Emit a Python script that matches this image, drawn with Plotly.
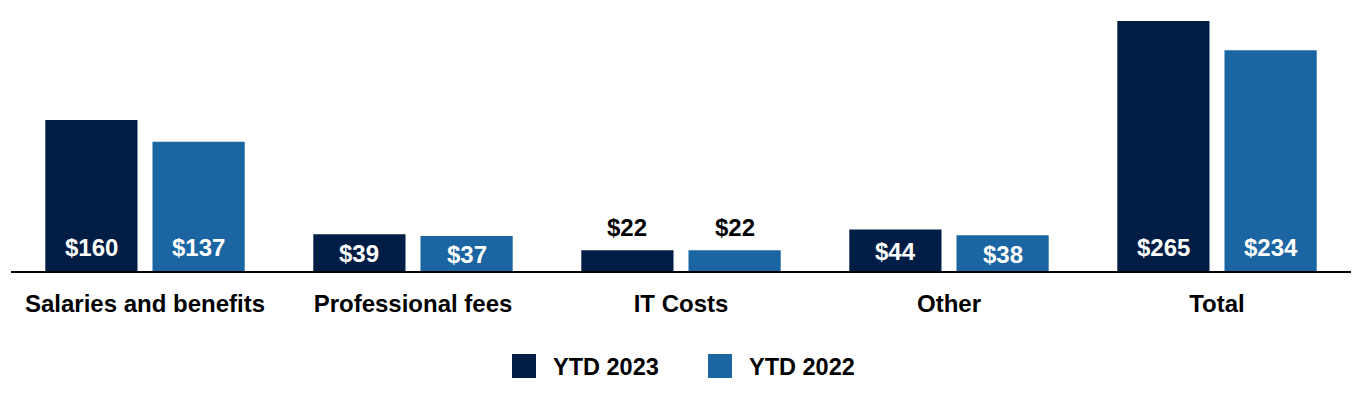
import plotly.graph_objects as go

categories = ["Salaries and benefits", "Professional fees", "IT Costs", "Other", "Total"]
ytd_2023 = [160, 39, 22, 44, 265]
ytd_2022 = [137, 37, 22, 38, 234]
series_names = ["YTD 2023", "YTD 2022"]

C23 = "#001e45"
C22 = "#1a65a2"
FONT = "Liberation Sans, Arial, sans-serif"

Y_MAX = 276.7
PLOT_H = 261.0
UNIT = PLOT_H / Y_MAX  # pixels per data unit

fig = go.Figure()
for name, vals, col in [(series_names[0], ytd_2023, C23), (series_names[1], ytd_2022, C22)]:
    fig.add_trace(go.Bar(
        x=categories, y=vals, name=name, marker_color=col, marker_line_width=0,
        showlegend=False, hoverinfo="x+y",
    ))

# value labels
for s, vals in enumerate([ytd_2023, ytd_2022]):
    off = -0.2 if s == 0 else 0.2
    for i, v in enumerate(vals):
        px = v * UNIT
        label = f"${v}"
        if px < 30:
            fig.add_annotation(x=i + off, y=v, xref="x", yref="y", text=label,
                               showarrow=False, yanchor="bottom", yshift=7,
                               font=dict(size=24, family=FONT, color="black", weight="bold"))
        else:
            center_px = min(22.5, px / 2 - 2)
            fig.add_annotation(x=i + off, y=center_px / UNIT, xref="x", yref="y", text=label,
                               showarrow=False, yanchor="middle", yshift=1,
                               font=dict(size=24, family=FONT, color="white", weight="bold"))

fig.update_layout(
    width=1360, height=400,
    margin=dict(l=3, r=17, t=2, b=137),
    paper_bgcolor="white", plot_bgcolor="white",
    barmode="group", bargap=0.2, bargroupgap=0.14,
    font=dict(family=FONT, color="black"),
)
fig.update_xaxes(
    showline=True, linecolor="black", linewidth=1.5, showgrid=False,
    ticks="", ticklabelstandoff=10,
    tickfont=dict(size=24, family=FONT, color="black", weight="bold"),
)
fig.update_yaxes(range=[0, Y_MAX], visible=False, showgrid=False)

# legend drawn manually (window coords: plot spans x 11..1351, y 10..271)
def px_x(xw):
    return (xw - 11) / 1340

def px_y(yw):
    return (271 - yw) / PLOT_H

legend_items = [(series_names[0], C23, 512), (series_names[1], C22, 708)]
for name, col, xw in legend_items:
    fig.add_shape(type="rect", xref="paper", yref="paper",
                  x0=px_x(xw), x1=px_x(xw + 24),
                  y0=px_y(378), y1=px_y(354),
                  fillcolor=col, line_width=0)
    fig.add_annotation(xref="paper", yref="paper", x=px_x(xw + 39), y=px_y(366.5),
                       text=name, showarrow=False, xanchor="left", yanchor="middle",
                       font=dict(size=23.5, family=FONT, color="black", weight="bold"))

fig.write_html("out.html")
